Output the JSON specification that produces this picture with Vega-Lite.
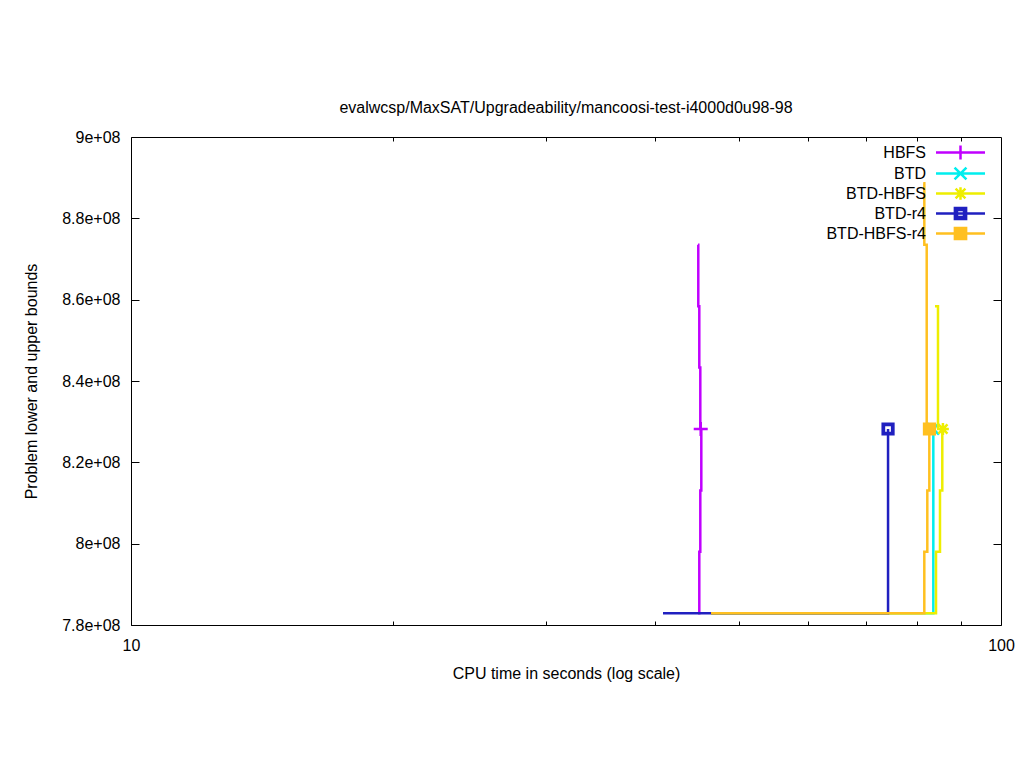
{
  "$schema": "https://vega.github.io/schema/vega-lite/v6.json",
  "width": 870,
  "height": 488,
  "autosize": "none",
  "padding": {"left": 131, "top": 137, "right": 23, "bottom": 143},
  "background": "white",
  "config": {
    "view": {"stroke": "#000000", "strokeWidth": 1},
    "font": "Liberation Sans",
    "axis": {
      "grid": false, "domain": false,
      "labelFont": "Liberation Sans", "labelFontSize": 16, "labelColor": "#000000",
      "titleFont": "Liberation Sans", "titleFontSize": 16, "titleFontWeight": "normal", "titleColor": "#000000",
      "tickColor": "#000000", "tickWidth": 1
    }
  },
  "title": {
    "text": "evalwcsp/MaxSAT/Upgradeability/mancoosi-test-i4000d0u98-98",
    "font": "Liberation Sans", "fontSize": 16, "fontWeight": "normal", "color": "#000000",
    "anchor": "middle", "offset": 13
  },
  "data": {
    "values": [
      {"series": "HBFS", "kind": "ub", "t": 44.85, "bound": 873500000},
      {"series": "HBFS", "kind": "ub", "t": 44.88, "bound": 858400000},
      {"series": "HBFS", "kind": "ub", "t": 45.00, "bound": 843300000},
      {"series": "HBFS", "kind": "ub", "t": 45.12, "bound": 828200000},
      {"series": "HBFS", "kind": "lb", "t": 44.85, "bound": 782900000},
      {"series": "HBFS", "kind": "lb", "t": 45.00, "bound": 798000000},
      {"series": "HBFS", "kind": "lb", "t": 45.12, "bound": 813100000},
      {"series": "HBFS", "kind": "lb", "t": 45.24, "bound": 828200000},
      {"series": "HBFS", "kind": "opt", "t": 45.17, "bound": 828200000},
      {"series": "BTD", "kind": "lb", "t": 46.42, "bound": 782900000},
      {"series": "BTD", "kind": "lb", "t": 83.60, "bound": 828200000},
      {"series": "BTD", "kind": "opt", "t": 83.60, "bound": 828200000},
      {"series": "BTD-HBFS", "kind": "ub", "t": 83.97, "bound": 858400000},
      {"series": "BTD-HBFS", "kind": "ub", "t": 84.64, "bound": 828200000},
      {"series": "BTD-HBFS", "kind": "lb", "t": 46.42, "bound": 782900000},
      {"series": "BTD-HBFS", "kind": "lb", "t": 84.20, "bound": 798000000},
      {"series": "BTD-HBFS", "kind": "lb", "t": 85.09, "bound": 813100000},
      {"series": "BTD-HBFS", "kind": "lb", "t": 85.61, "bound": 828200000},
      {"series": "BTD-HBFS", "kind": "opt", "t": 85.75, "bound": 828200000},
      {"series": "BTD-r4", "kind": "lb", "t": 40.88, "bound": 782900000},
      {"series": "BTD-r4", "kind": "lb", "t": 74.16, "bound": 828200000},
      {"series": "BTD-r4", "kind": "opt", "t": 74.16, "bound": 828200000},
      {"series": "BTD-HBFS-r4", "kind": "ub", "t": 81.40, "bound": 888600000},
      {"series": "BTD-HBFS-r4", "kind": "ub", "t": 81.63, "bound": 873500000},
      {"series": "BTD-HBFS-r4", "kind": "ub", "t": 82.15, "bound": 828200000},
      {"series": "BTD-HBFS-r4", "kind": "lb", "t": 46.42, "bound": 782900000},
      {"series": "BTD-HBFS-r4", "kind": "lb", "t": 81.63, "bound": 798000000},
      {"series": "BTD-HBFS-r4", "kind": "lb", "t": 82.28, "bound": 813100000},
      {"series": "BTD-HBFS-r4", "kind": "lb", "t": 82.72, "bound": 828200000},
      {"series": "BTD-HBFS-r4", "kind": "opt", "t": 82.75, "bound": 828200000}
    ]
  },
  "encoding": {
    "color": {
      "field": "series", "type": "nominal",
      "scale": {
        "domain": ["HBFS", "BTD", "BTD-HBFS", "BTD-r4", "BTD-HBFS-r4"],
        "range": ["#c000ff", "#00eeee", "#eeee00", "#2020c0", "#ffc020"]
      },
      "legend": {
        "title": null, "orient": "top-right", "offset": 7, "padding": 0,
        "symbolSize": 196, "symbolStrokeWidth": 2.5,
        "labelAlign": "right", "labelOffset": -43,
        "labelFont": "Liberation Sans", "labelFontSize": 16, "labelColor": "#000000",
        "rowPadding": -6,
        "encode": {
          "symbols": {
            "update": {
              "shape": {"signal": "datum.value === 'HBFS' ? 'M-3.5,0H3.5M0,-1V1M4,0' : datum.value === 'BTD' ? 'M-3.5,0H3.5M-0.85,-0.85L0.85,0.85M-0.85,0.85L0.85,-0.85M4,0' : datum.value === 'BTD-HBFS' ? 'M-3.5,0H3.5M0,-0.9V0.9M-0.7,-0.7L0.7,0.7M-0.7,0.7L0.7,-0.7M4,0' : datum.value === 'BTD-r4' ? 'M-3.5,0H3.5M-0.8,-0.8H0.8V0.8H-0.8ZM-0.5,-0.5V0.5H0.5V-0.5ZM4,0' : 'M-3.5,0H3.5M-0.8,-0.8H0.8V0.8H-0.8ZM4,0'"},
              "fill": {"scale": "color", "field": "value"},
              "stroke": {"scale": "color", "field": "value"},
              "strokeWidth": {"value": 2.5},
              "size": {"value": 196},
              "opacity": {"value": 1}
            }
          }
        }
      }
    }
  },
  "resolve": {"axis": {"x": "independent", "y": "independent"}},
  "layer": [
    {
      "transform": [{"filter": "datum.series === 'HBFS' && datum.kind !== 'opt'"}],
      "mark": {"type": "line", "interpolate": "step-after", "strokeWidth": 2.5},
      "encoding": {
        "x": {
          "field": "t", "type": "quantitative",
          "scale": {"type": "log", "domain": [10, 100], "nice": false},
          "title": "CPU time in seconds (log scale)",
          "axis": {
            "orient": "bottom",
            "values": [10, 20, 30, 40, 50, 60, 70, 80, 90, 100],
            "labelExpr": "datum.value == 10 || datum.value == 100 ? '' + datum.value : ''",
            "tickSize": -4, "labelPadding": 16, "titlePadding": 12, "labelFlush": false
          }
        },
        "y": {
          "field": "bound", "type": "quantitative",
          "scale": {"domain": [780000000, 900000000], "nice": false, "zero": false},
          "title": "Problem lower and upper bounds",
          "axis": {
            "orient": "left",
            "values": [780000000, 800000000, 820000000, 840000000, 860000000, 880000000, 900000000],
            "labelExpr": "replace(format(datum.value, '.2~e'), 'e+8', 'e+08')",
            "tickSize": -8, "labelPadding": 19, "titlePadding": 22
          }
        },
        "detail": {"field": "kind", "type": "nominal"}
      }
    },
    {
      "transform": [{"filter": "datum.series === 'HBFS' && datum.kind === 'opt'"}],
      "mark": {"type": "point", "shape": "M-1,0H1M0,-1V1", "filled": true, "size": 196, "stroke": "#c000ff", "strokeWidth": 2.5, "opacity": 1},
      "encoding": {
        "x": {
          "field": "t", "type": "quantitative",
          "scale": {"type": "log", "domain": [10, 100], "nice": false},
          "axis": {"orient": "top", "title": null, "labels": false, "values": [20, 30, 40, 50, 60, 70, 80, 90], "tickSize": -4}
        },
        "y": {
          "field": "bound", "type": "quantitative",
          "scale": {"domain": [780000000, 900000000], "nice": false, "zero": false},
          "axis": {"orient": "right", "title": null, "labels": false, "values": [800000000, 820000000, 840000000, 860000000, 880000000], "tickSize": -8}
        }
      }
    },
    {
      "transform": [{"filter": "datum.series === 'BTD' && datum.kind !== 'opt'"}],
      "mark": {"type": "line", "interpolate": "step-after", "strokeWidth": 2.5},
      "encoding": {
        "x": {"field": "t", "type": "quantitative", "scale": {"type": "log", "domain": [10, 100], "nice": false}, "axis": null},
        "y": {"field": "bound", "type": "quantitative", "scale": {"domain": [780000000, 900000000], "nice": false, "zero": false}, "axis": null},
        "detail": {"field": "kind", "type": "nominal"}
      }
    },
    {
      "transform": [{"filter": "datum.series === 'BTD' && datum.kind === 'opt'"}],
      "mark": {"type": "point", "shape": "M-0.8,-0.8L0.8,0.8M-0.8,0.8L0.8,-0.8", "filled": true, "size": 196, "stroke": "#00eeee", "strokeWidth": 2.5, "opacity": 1},
      "encoding": {
        "x": {"field": "t", "type": "quantitative", "scale": {"type": "log", "domain": [10, 100], "nice": false}, "axis": null},
        "y": {"field": "bound", "type": "quantitative", "scale": {"domain": [780000000, 900000000], "nice": false, "zero": false}, "axis": null}
      }
    },
    {
      "transform": [{"filter": "datum.series === 'BTD-HBFS' && datum.kind !== 'opt'"}],
      "mark": {"type": "line", "interpolate": "step-after", "strokeWidth": 2.5},
      "encoding": {
        "x": {"field": "t", "type": "quantitative", "scale": {"type": "log", "domain": [10, 100], "nice": false}, "axis": null},
        "y": {"field": "bound", "type": "quantitative", "scale": {"domain": [780000000, 900000000], "nice": false, "zero": false}, "axis": null},
        "detail": {"field": "kind", "type": "nominal"}
      }
    },
    {
      "transform": [{"filter": "datum.series === 'BTD-HBFS' && datum.kind === 'opt'"}],
      "mark": {"type": "point", "shape": "M-0.85,0H0.85M0,-0.85V0.85M-0.65,-0.65L0.65,0.65M-0.65,0.65L0.65,-0.65", "filled": true, "size": 196, "stroke": "#eeee00", "strokeWidth": 2.5, "opacity": 1},
      "encoding": {
        "x": {"field": "t", "type": "quantitative", "scale": {"type": "log", "domain": [10, 100], "nice": false}, "axis": null},
        "y": {"field": "bound", "type": "quantitative", "scale": {"domain": [780000000, 900000000], "nice": false, "zero": false}, "axis": null}
      }
    },
    {
      "transform": [{"filter": "datum.series === 'BTD-r4' && datum.kind !== 'opt'"}],
      "mark": {"type": "line", "interpolate": "step-after", "strokeWidth": 2.5},
      "encoding": {
        "x": {"field": "t", "type": "quantitative", "scale": {"type": "log", "domain": [10, 100], "nice": false}, "axis": null},
        "y": {"field": "bound", "type": "quantitative", "scale": {"domain": [780000000, 900000000], "nice": false, "zero": false}, "axis": null},
        "detail": {"field": "kind", "type": "nominal"}
      }
    },
    {
      "transform": [{"filter": "datum.series === 'BTD-r4' && datum.kind === 'opt'"}],
      "mark": {"type": "point", "shape": "M-0.8,-0.8H0.8V0.8H-0.8ZM-0.55,-0.55V0.55H0.55V-0.55Z", "filled": true, "size": 196, "stroke": "#2020c0", "strokeWidth": 2, "opacity": 1},
      "encoding": {
        "x": {"field": "t", "type": "quantitative", "scale": {"type": "log", "domain": [10, 100], "nice": false}, "axis": null},
        "y": {"field": "bound", "type": "quantitative", "scale": {"domain": [780000000, 900000000], "nice": false, "zero": false}, "axis": null}
      }
    },
    {
      "transform": [{"filter": "datum.series === 'BTD-HBFS-r4' && datum.kind !== 'opt'"}],
      "mark": {"type": "line", "interpolate": "step-after", "strokeWidth": 2.5},
      "encoding": {
        "x": {"field": "t", "type": "quantitative", "scale": {"type": "log", "domain": [10, 100], "nice": false}, "axis": null},
        "y": {"field": "bound", "type": "quantitative", "scale": {"domain": [780000000, 900000000], "nice": false, "zero": false}, "axis": null},
        "detail": {"field": "kind", "type": "nominal"}
      }
    },
    {
      "transform": [{"filter": "datum.series === 'BTD-HBFS-r4' && datum.kind === 'opt'"}],
      "mark": {"type": "point", "shape": "M-0.8,-0.8H0.8V0.8H-0.8Z", "filled": true, "size": 196, "stroke": "#ffc020", "strokeWidth": 2, "opacity": 1},
      "encoding": {
        "x": {"field": "t", "type": "quantitative", "scale": {"type": "log", "domain": [10, 100], "nice": false}, "axis": null},
        "y": {"field": "bound", "type": "quantitative", "scale": {"domain": [780000000, 900000000], "nice": false, "zero": false}, "axis": null}
      }
    }
  ]
}
